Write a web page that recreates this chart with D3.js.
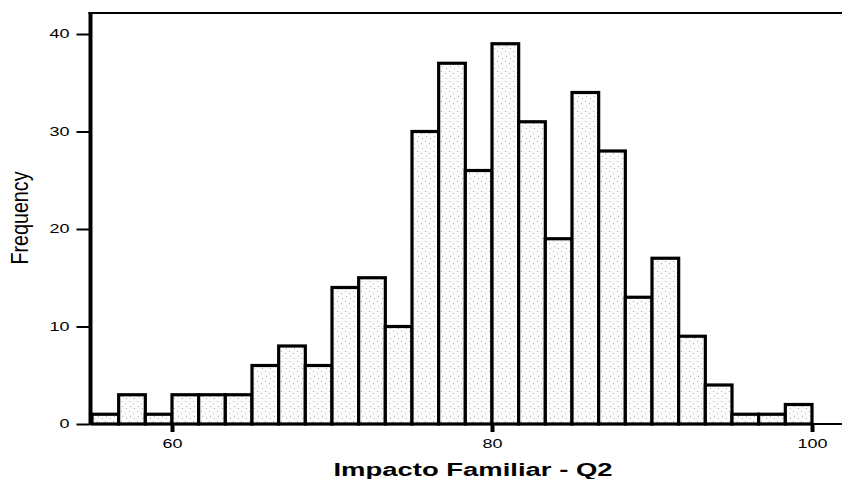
<!DOCTYPE html>
<html><head><meta charset="utf-8">
<script src="https://cdn.jsdelivr.net/npm/d3@7"></script>
<style>html,body{margin:0;padding:0;background:#fff;}svg{display:block;}</style>
</head><body>
<script>
// Data
const binStart = 55;          // first bin lower edge
const binWidth = 5 / 3;       // bin width
const frequencies = [1,3,1,3,3,3,6,8,6,14,15,10,30,37,26,39,31,19,34,28,13,17,9,4,1,1,2];
const xTicks = [60, 80, 100];
const yTicks = [0, 10, 20, 30, 40];
const xTitle = "Impacto Familiar - Q2";
const yTitle = "Frequency";

(function () {
const W = 842, H = 479;
const svg = d3.select("body").append("svg").attr("width", W).attr("height", H);

const x = d3.scaleLinear().domain([60, 100]).range([172, 812]);
const y = d3.scaleLinear().domain([0, 40]).range([424, 34]);
const pLeft = 90.5, pRight = 842, pTop = 13, pBottom = y(0);

// stipple pattern
const defs = svg.append("defs");
const pat = defs.append("pattern").attr("id", "stip").attr("patternUnits", "userSpaceOnUse")
  .attr("width", 8).attr("height", 10);
pat.append("rect").attr("width", 8).attr("height", 10).attr("fill", "#fcfcfc");
[[1,1],[5,3],[2,6],[6,8]].forEach(([a,b]) =>
  pat.append("rect").attr("x", a).attr("y", b).attr("width", 1).attr("height", 1).attr("fill", "#b0b0b0"));

// bars
const bins = frequencies.map((f, i) => ({x0: binStart + i * binWidth, x1: binStart + (i + 1) * binWidth, f}));
svg.append("g").selectAll("rect").data(bins).join("rect")
  .attr("x", d => x(d.x0)).attr("y", d => y(d.f))
  .attr("width", d => x(d.x1) - x(d.x0)).attr("height", d => y(0) - y(d.f))
  .attr("fill", "url(#stip)").attr("stroke", "#000").attr("stroke-width", 3.2);

// frame lines
svg.append("line").attr("x1", pLeft - 2).attr("x2", pRight).attr("y1", pTop).attr("y2", pTop)
  .attr("stroke", "#000").attr("stroke-width", 2);
svg.append("line").attr("x1", pLeft).attr("x2", pRight).attr("y1", pBottom).attr("y2", pBottom)
  .attr("stroke", "#000").attr("stroke-width", 2);
svg.append("line").attr("x1", pLeft).attr("x2", pLeft).attr("y1", pTop - 1).attr("y2", pBottom + 1)
  .attr("stroke", "#000").attr("stroke-width", 4);

// y axis
const yAxis = d3.axisLeft(y).tickValues(yTicks).tickSize(13).tickPadding(7).tickFormat(d3.format("d"));
const gy = svg.append("g").attr("transform", `translate(${pLeft - 1},0)`).call(yAxis);
gy.select(".domain").remove();
gy.selectAll(".tick line").attr("stroke", "#000").attr("stroke-width", 2);
gy.selectAll(".tick text").attr("font-family", "Liberation Sans, Arial, sans-serif").attr("font-size", 12)
  .attr("fill", "#000")
  .attr("textLength", d => String(d).length * 10).attr("lengthAdjust", "spacingAndGlyphs");

// x axis
const xAxis = d3.axisBottom(x).tickValues(xTicks).tickSize(8).tickPadding(7).tickFormat(d3.format("d"));
const gx = svg.append("g").attr("transform", `translate(0,${pBottom})`).call(xAxis);
gx.select(".domain").remove();
gx.selectAll(".tick line").attr("stroke", "#000").attr("stroke-width", 4);
gx.selectAll(".tick text").attr("font-family", "Liberation Sans, Arial, sans-serif").attr("font-size", 12)
  .attr("fill", "#000")
  .attr("textLength", d => String(d).length * 10).attr("lengthAdjust", "spacingAndGlyphs");

// titles
svg.append("text").attr("x", 473).attr("y", 476).attr("text-anchor", "middle")
  .attr("font-family", "Liberation Sans, Arial, sans-serif").attr("font-size", 18).attr("font-weight", "bold")
  .attr("textLength", 279).attr("lengthAdjust", "spacingAndGlyphs").text(xTitle);
svg.append("text").attr("transform", "translate(28,218) rotate(-90)").attr("text-anchor", "middle")
  .attr("font-family", "Liberation Sans Narrow, Liberation Sans, Arial, sans-serif").attr("font-size", 24)
  .attr("textLength", 93).attr("lengthAdjust", "spacingAndGlyphs").text(yTitle);
})();
</script>
</body></html>
